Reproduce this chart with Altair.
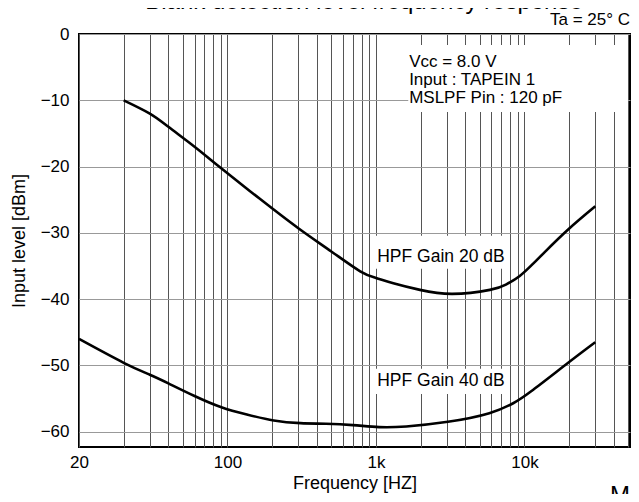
import altair as alt
import pandas as pd

# ---------------- data ----------------
freq_20 = [20, 30, 40, 60, 89, 166, 300, 500, 783, 1000, 1310, 1980, 3270, 5850, 7500, 9300, 11500, 13700, 19700, 30000]
level_20 = [-10.0, -12.0, -14.0, -17.0, -20.1, -24.9, -29.3, -32.8, -35.8, -36.8, -37.6, -38.6, -39.2, -38.6, -37.8, -36.5, -34.6, -32.9, -29.5, -26.0]

freq_40 = [10, 20, 30, 40, 60, 91, 135, 205, 310, 460, 700, 1050, 1600, 3050, 5800, 8400, 11100, 19700, 30000]
level_40 = [-46.0, -49.6, -51.4, -52.7, -54.6, -56.3, -57.4, -58.3, -58.7, -58.8, -59.0, -59.3, -59.2, -58.5, -57.2, -55.7, -53.9, -49.6, -46.5]

grid_freqs = [10, 20, 30, 40, 50, 60, 70, 80, 90,
              100, 200, 300, 400, 500, 600, 700, 800, 900,
              1000, 2000, 3000, 4000, 5000, 6000, 7000, 8000, 9000,
              10000, 20000, 30000, 40000, 50000]
decade_values = [10, 100, 1000, 10000]
decade_labels = ["20", "100", "1k", "10k"]
y_ticks = [0, -10, -20, -30, -40, -50, -60]

# annotations (text in data coordinates)
note_text = ["Vcc = 8.0 V", "Input : TAPEIN 1", "MSLPF Pin : 120 pF"]
note_f = [1673, 1673, 1673]
note_level = [-4.93, -7.69, -10.48]
curve_text = ["HPF Gain 20 dB", "HPF Gain 40 dB"]
curve_text_f = [1020, 1020]
curve_text_level = [-34.33, -53.17]

# white backgrounds behind annotation text (grid lines are interrupted there)
box_f1 = [1650, 940, 940]
box_f2 = [49800, 7760, 7760]
box_l1 = [-1.66, -30.45, -50.5]
box_l2 = [-11.76, -35.43, -54.3]

FONT = "Liberation Sans"

curves = pd.DataFrame({
    "f": freq_20 + freq_40,
    "level": level_20 + level_40,
    "series": ["HPF Gain 20 dB"] * len(freq_20) + ["HPF Gain 40 dB"] * len(freq_40),
})
notes = pd.DataFrame({"f": note_f + curve_text_f,
                      "level": note_level + curve_text_level,
                      "text": note_text + curve_text,
                      "size": [17, 17, 17, 17.5, 17.5]})
boxes = pd.DataFrame({"f": box_f1, "f2": box_f2, "level": box_l1, "level2": box_l2})

label_expr = " : ".join(f"datum.value == {v} ? '{l}'" for v, l in zip(decade_values, decade_labels)) + " : ''"

x_scale = alt.Scale(type="log", domain=[10, 51400], nice=False)
y_scale = alt.Scale(domain=[-62.3, 0], nice=False, zero=False)

x_axis = alt.Axis(values=grid_freqs, labelExpr=label_expr, title="Frequency [HZ]",
                  grid=True, gridColor="#555555", gridWidth=1, gridOpacity=1,
                  ticks=False, domain=False, labelFlush=False, labelOverlap=False,
                  labelFont=FONT, labelFontSize=17, labelColor="black", labelPadding=7,
                  titleFont=FONT, titleFontSize=18, titleFontWeight="normal",
                  titleColor="black", titlePadding=4)
y_axis = alt.Axis(values=y_ticks, title="Input level [dBm]",
                  grid=True, gridColor="#999999", gridWidth=1.2, gridOpacity=1,
                  ticks=False, domain=False, labelFlush=False,
                  labelFont=FONT, labelFontSize=17, labelColor="black", labelPadding=10,
                  titleFont=FONT, titleFontSize=18, titleFontWeight="normal",
                  titleColor="black", titlePadding=12)

X = alt.X("f:Q", scale=x_scale, axis=x_axis)
Y = alt.Y("level:Q", scale=y_scale, axis=y_axis)

bg = alt.Chart(boxes).mark_rect(fill="white").encode(x=X, x2="f2:Q", y=Y, y2="level2:Q")

lines = alt.Chart(curves).mark_line(color="black", strokeWidth=2.6, interpolate="natural").encode(
    x=X, y=Y, detail="series:N",
)

texts = alt.Chart(notes).mark_text(align="left", baseline="alphabetic", font=FONT, color="black").encode(
    x=X, y=Y, text="text:N",
    size=alt.Size("size:Q", scale=None, legend=None),
)

title_df = pd.DataFrame({"text": ["Blank detection level frequency response"]})
title = alt.Chart(title_df).mark_text(align="center", baseline="alphabetic", font=FONT,
                                      fontSize=24, color="black").encode(
    x=alt.value(285), y=alt.value(-25), text="text:N")

ta_df = pd.DataFrame({"text": ["Ta = 25° C"]})
ta = alt.Chart(ta_df).mark_text(align="right", baseline="alphabetic", font=FONT,
                                fontSize=17, color="black").encode(
    x=alt.value(551), y=alt.value(-9), text="text:N")

ms_df = pd.DataFrame({"text": ["MS"]})
ms = alt.Chart(ms_df).mark_text(align="left", baseline="alphabetic", font=FONT,
                                fontSize=24, color="black").encode(
    x=alt.value(531), y=alt.value(469), text="text:N")

chart = alt.layer(bg, lines, texts, title, ta, ms).properties(
    width=551, height=413,
    autosize=alt.AutoSizeParams(type="none"),
    padding={"left": 71, "top": 26, "right": 1, "bottom": 47},
).configure_view(stroke="black", strokeWidth=2)

chart.save("out.html", embed_options={"renderer": "svg", "actions": False})
